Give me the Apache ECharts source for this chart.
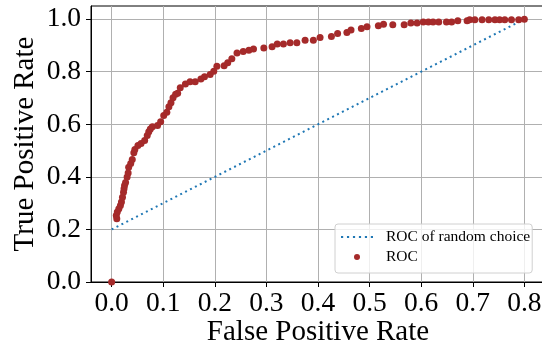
<!DOCTYPE html>
<html>
<head>
<meta charset="utf-8">
<script src="https://cdn.jsdelivr.net/npm/echarts@6/dist/echarts.min.js"></script>
<style>
  html, body { margin: 0; padding: 0; background: #fff; }
  #chart { width: 542px; height: 349px; }
</style>
</head>
<body>
<div id="chart"></div>
<script>
// ROC points
const fpr = [0, 0.010, 0.009, 0.011, 0.014, 0.017, 0.019, 0.021, 0.023, 0.024, 0.025, 0.027, 0.030, 0.032, 0.033,
  0.037, 0.040, 0.043, 0.045, 0.051, 0.057, 0.064, 0.069, 0.072, 0.075, 0.079, 0.089, 0.095, 0.101, 0.107,
  0.111, 0.115, 0.119, 0.124, 0.128, 0.133, 0.143, 0.152, 0.162, 0.173, 0.180, 0.191, 0.198, 0.204, 0.218,
  0.225, 0.233, 0.243, 0.255, 0.266, 0.275, 0.295, 0.311, 0.321, 0.333, 0.346, 0.359, 0.375, 0.391, 0.404,
  0.426, 0.438, 0.456, 0.464, 0.484, 0.495, 0.517, 0.527, 0.545, 0.567, 0.580, 0.592, 0.604, 0.614, 0.623,
  0.634, 0.649, 0.659, 0.671, 0.689, 0.694, 0.704, 0.718, 0.731, 0.743, 0.752, 0.762, 0.775, 0.789, 0.800];
const tpr = [0, 0.241, 0.253, 0.266, 0.279, 0.291, 0.304, 0.322, 0.341, 0.355, 0.367, 0.379, 0.399, 0.415, 0.437,
  0.451, 0.466, 0.492, 0.504, 0.519, 0.527, 0.538, 0.557, 0.572, 0.582, 0.591, 0.595, 0.610, 0.633, 0.646,
  0.667, 0.682, 0.701, 0.714, 0.718, 0.739, 0.753, 0.762, 0.762, 0.772, 0.781, 0.789, 0.802, 0.821, 0.823,
  0.834, 0.849, 0.871, 0.877, 0.882, 0.886, 0.890, 0.895, 0.905, 0.905, 0.910, 0.910, 0.920, 0.920, 0.930,
  0.934, 0.945, 0.949, 0.959, 0.964, 0.971, 0.975, 0.981, 0.979, 0.979, 0.985, 0.985, 0.989, 0.989, 0.989,
  0.989, 0.989, 0.989, 0.994, 0.994, 0.998, 0.998, 0.998, 0.998, 0.998, 0.998, 0.998, 0.998, 0.998, 1.000];
const randomX = [0, 0.8];
const randomY = [0.2, 1.0];
const xTicks = [0, 0.1, 0.2, 0.3, 0.4, 0.5, 0.6, 0.7, 0.8];
const yTicks = [0, 0.2, 0.4, 0.6, 0.8, 1.0];

const FONT = '"Liberation Serif", "DejaVu Serif", serif';
// dotted line sample for the legend (icon of a line series always gets a dot otherwise)
const DOTS = 'path://M0 0h2v2H0z M5.5 0h2v2h-2z M11 0h2v2h-2z M16.5 0h2v2h-2z M22 0h2v2h-2z M27.5 0h2v2h-2z';

const chart = echarts.init(document.getElementById('chart'), null, { renderer: 'canvas' });

chart.setOption({
  animation: false,
  backgroundColor: '#fff',
  grid: {
    left: 91, top: 6, right: -3, bottom: 67,
    outerBoundsMode: 'none',
    containLabel: false,
    show: true, borderColor: '#000', borderWidth: 1, backgroundColor: 'transparent'
  },
  legend: {
    left: 335, top: 224,
    orient: 'vertical',
    itemWidth: 32, itemHeight: 6, itemGap: 4,
    padding: [5, 2, 8, 6],
    borderColor: '#d0d0d0', borderWidth: 1, borderRadius: 3,
    backgroundColor: 'rgba(255,255,255,0.8)',
    textStyle: { fontFamily: FONT, fontSize: 15.5, lineHeight: 16, color: '#000', padding: [0, 0, 0, 8] },
    data: [
      { name: 'ROC of random choice', icon: DOTS, itemStyle: { color: '#1f77b4' } },
      { name: 'ROC', icon: 'circle' }
    ]
  },
  xAxis: {
    type: 'value', min: -0.04, max: 0.84,
    name: 'False Positive Rate', nameLocation: 'middle', nameGap: 36,
    nameMoveOverlap: false,
    nameTextStyle: { fontFamily: FONT, fontSize: 29, color: '#000' },
    axisLine: { show: true, onZero: false, lineStyle: { color: '#000', width: 1 } },
    axisTick: { show: true, length: 5, customValues: xTicks, lineStyle: { color: '#000' } },
    axisLabel: {
      customValues: xTicks, margin: 8,
      fontFamily: FONT, fontSize: 27.5, color: '#000',
      formatter: v => v.toFixed(1)
    },
    splitLine: { show: true, lineStyle: { color: '#b0b0b0', width: 1 } }
  },
  yAxis: {
    type: 'value', min: 0, max: 1.05,
    name: 'True Positive Rate', nameLocation: 'middle', nameGap: 51,
    nameMoveOverlap: false,
    nameTextStyle: { fontFamily: FONT, fontSize: 29, color: '#000' },
    axisLine: { show: true, onZero: false, lineStyle: { color: '#000', width: 1 } },
    axisTick: { show: true, length: 5, customValues: yTicks, lineStyle: { color: '#000' } },
    axisLabel: {
      customValues: yTicks, margin: 10,
      fontFamily: FONT, fontSize: 27.5, color: '#000',
      formatter: v => v.toFixed(1)
    },
    splitLine: { show: true, lineStyle: { color: '#b0b0b0', width: 1 } }
  },
  series: [
    {
      name: 'ROC of random choice',
      type: 'line',
      data: randomX.map((x, i) => [x, randomY[i]]),
      showSymbol: false,
      symbol: 'none',
      lineStyle: { color: '#1f77b4', width: 2, type: [2, 3.5] },
      itemStyle: { color: '#1f77b4' },
      z: 2
    },
    {
      name: 'ROC',
      type: 'scatter',
      data: fpr.map((x, i) => [x, tpr[i]]),
      symbolSize: 7,
      itemStyle: { color: '#a52a2a', opacity: 1 },
      z: 3
    }
  ]
});
</script>
</body>
</html>
